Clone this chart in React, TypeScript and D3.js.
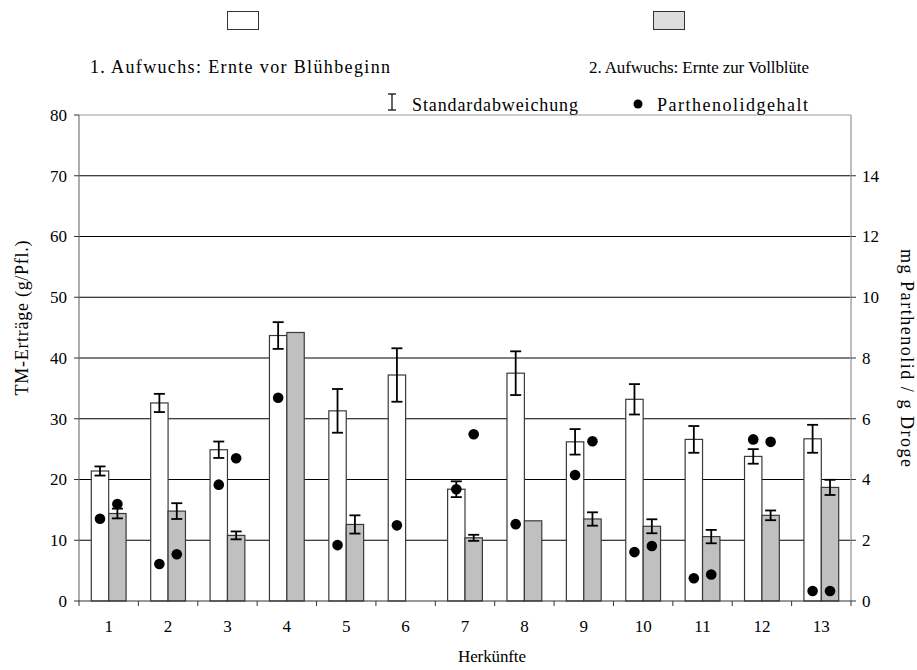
import React from "react";
import * as d3 from "d3";

// Herkünfte (Kategorien)
const categories = ["1", "2", "3", "4", "5", "6", "7", "8", "9", "10", "11", "12", "13"];

// TM-Erträge (g/Pfl.)
const ertrag1 = [21.4, 32.6, 24.9, 43.7, 31.3, 37.2, 18.4, 37.5, 26.2, 33.2, 26.6, 23.8, 26.7];
const sd1 = [0.75, 1.5, 1.35, 2.2, 3.6, 4.4, 1.3, 3.6, 2.1, 2.5, 2.2, 1.2, 2.3];
const ertrag2 = [14.4, 14.8, 10.8, 44.2, 12.6, null, 10.4, 13.2, 13.5, 12.3, 10.6, 14.1, 18.7];
const sd2 = [0.8, 1.3, 0.65, null, 1.5, null, 0.5, null, 1.1, 1.15, 1.1, 0.8, 1.25];

// mg Parthenolid / g Droge
const parth1 = [2.71, 1.22, 3.83, 6.69, 1.84, 2.49, 3.68, 2.53, 4.15, 1.61, 0.75, 5.32, 0.33];
const parth2 = [3.19, 1.54, 4.7, null, null, null, 5.49, null, 5.26, 1.81, 0.87, 5.24, 0.33];

const leftTicks = [0, 10, 20, 30, 40, 50, 60, 70, 80];
const rightTicks = [0, 2, 4, 6, 8, 10, 12, 14];

const legendLabels = ["1. Aufwuchs: Ernte vor Blühbeginn", "2. Aufwuchs: Ernte zur Vollblüte"];

const W = 917;
const H = 670;
const FONT = "'Liberation Serif', 'Times New Roman', Times, serif";

export default function App() {
  const left = 79, right = 851, top = 115, bottom = 601;

  const x = d3.scaleBand<string>().domain(categories).range([left, right]).padding(0);
  const inner = d3
    .scaleBand<string>()
    .domain(["a", "b"])
    .range([0, x.bandwidth()])
    .paddingInner(0)
    .paddingOuter(0.707);
  const y = d3.scaleLinear().domain([0, 80]).range([bottom, top]);
  const y2 = d3.scaleLinear().domain([0, 16]).range([bottom, top]);

  const series = [
    { key: "a", values: ertrag1, sd: sd1, parth: parth1, fill: "#ffffff" },
    { key: "b", values: ertrag2, sd: sd2, parth: parth2, fill: "#c0c0c0" },
  ];

  const bw = inner.bandwidth();
  const cap = 5.5;

  return (
    <div style={{ position: "absolute", left: 0, top: 0 }}>
      <svg
        width={W}
        height={H}
        style={{ display: "block", background: "#fff", fontFamily: FONT, fontSize: 17 }}
      >
        {/* Gitterlinien */}
        {leftTicks
          .filter((t) => t > 0 && t < 80)
          .map((t) => (
            <line key={t} x1={left} x2={right} y1={y(t)} y2={y(t)} stroke="#000" strokeWidth={1} />
          ))}
        <line x1={left} x2={right} y1={top} y2={top} stroke="#999" strokeWidth={1.2} />

        {/* Balken */}
        {series.map((s) =>
          categories.map((c, i) => {
            const v = s.values[i];
            if (v == null) return null;
            const bx = (x(c) as number) + (inner(s.key) as number);
            return (
              <rect
                key={s.key + c}
                x={bx}
                y={y(v)}
                width={bw}
                height={bottom - y(v)}
                fill={s.fill}
                stroke="#3a3a3a"
                strokeWidth={1.2}
              />
            );
          })
        )}

        {/* Standardabweichung */}
        {series.map((s) =>
          categories.map((c, i) => {
            const v = s.values[i];
            const e = s.sd[i];
            if (v == null || e == null) return null;
            const cx = (x(c) as number) + (inner(s.key) as number) + bw / 2;
            return (
              <g key={"e" + s.key + c} stroke="#000" strokeWidth={1.8}>
                <line x1={cx} x2={cx} y1={y(v + e)} y2={y(v - e)} />
                <line x1={cx - cap} x2={cx + cap} y1={y(v + e)} y2={y(v + e)} />
                <line x1={cx - cap} x2={cx + cap} y1={y(v - e)} y2={y(v - e)} />
              </g>
            );
          })
        )}

        {/* Parthenolidgehalt */}
        {series.map((s) =>
          categories.map((c, i) => {
            const p = s.parth[i];
            if (p == null) return null;
            const cx = (x(c) as number) + (inner(s.key) as number) + bw / 2;
            return <circle key={"p" + s.key + c} cx={cx} cy={y2(p)} r={5.3} fill="#000" />;
          })
        )}

        {/* linke Achse */}
        <line x1={left} x2={left} y1={top} y2={bottom} stroke="#777" strokeWidth={1.2} />
        {leftTicks.map((t) => (
          <g key={"l" + t}>
            <line x1={left - 5} x2={left} y1={y(t)} y2={y(t)} stroke="#333" />
            <text x={left - 12} y={y(t)} dy="0.35em" textAnchor="end">
              {t}
            </text>
          </g>
        ))}

        {/* rechte Achse */}
        <line x1={right} x2={right} y1={top} y2={bottom} stroke="#aaa" strokeWidth={1.5} />
        {rightTicks.map((t) => (
          <g key={"r" + t}>
            <line x1={right} x2={right + 5} y1={y2(t)} y2={y2(t)} stroke="#333" />
            <text x={right + 11} y={y2(t)} dy="0.35em" textAnchor="start">
              {t}
            </text>
          </g>
        ))}

        {/* x-Achse */}
        <line x1={left} x2={right} y1={bottom} y2={bottom} stroke="#333" strokeWidth={1.2} />
        {categories.map((c) => (
          <g key={"x" + c}>
            <line x1={x(c)} x2={x(c)} y1={bottom} y2={bottom + 5} stroke="#333" />
            <text x={(x(c) as number) + x.bandwidth() / 2} y={632} textAnchor="middle">
              {c}
            </text>
          </g>
        ))}
        <line x1={right} x2={right} y1={bottom} y2={bottom + 5} stroke="#333" />

        {/* Achsentitel */}
        <text transform="translate(28,318) rotate(-90)" textAnchor="middle" fontSize={18} textLength={155} lengthAdjust="spacing">
          TM-Erträge (g/Pfl.)
        </text>
        <text transform="translate(901,358) rotate(90)" textAnchor="middle" fontSize={18} textLength={218} lengthAdjust="spacing">
          mg Parthenolid / g Droge
        </text>
        <text x={492} y={662} textAnchor="middle" textLength={68} lengthAdjust="spacing">
          Herkünfte
        </text>

        {/* Legende */}
        <rect x={227.5} y={11.5} width={31} height={18} fill="#fff" stroke="#333" />
        <text x={240} y={73} textAnchor="middle" fontSize={18} textLength={300} lengthAdjust="spacing">
          {legendLabels[0]}
        </text>
        <rect x={653.5} y={11.5} width={31} height={18} fill="#ddd" stroke="#333" />
        <text x={699} y={73} textAnchor="middle" fontSize={17} textLength={220} lengthAdjust="spacing">
          {legendLabels[1]}
        </text>

        <g stroke="#000" strokeWidth={1.2}>
          <line x1={392} x2={392} y1={94} y2={110} />
          <line x1={388} x2={396} y1={94} y2={94} />
          <line x1={388} x2={396} y1={110} y2={110} />
        </g>
        <text x={412} y={111} fontSize={18} textLength={166} lengthAdjust="spacing">
          Standardabweichung
        </text>
        <circle cx={638} cy={104} r={4.5} fill="#000" />
        <text x={657} y={111} fontSize={18} textLength={151} lengthAdjust="spacing">
          Parthenolidgehalt
        </text>
      </svg>
    </div>
  );
}
